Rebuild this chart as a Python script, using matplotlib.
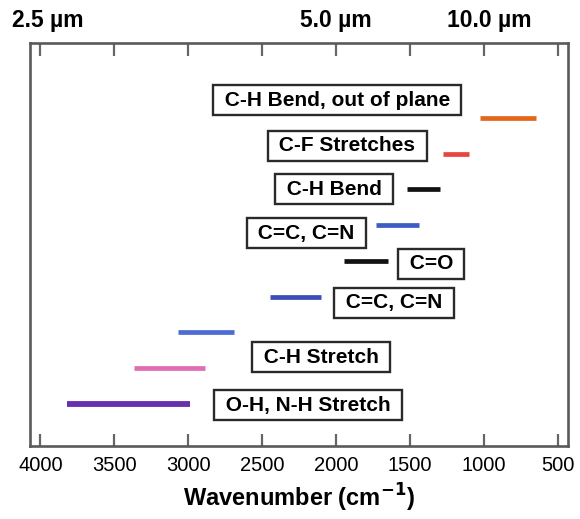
import matplotlib
matplotlib.use("Agg")
import matplotlib.pyplot as plt

# Data: absorption ranges (wavenumber, cm^-1), from top to bottom
band_start = [1030, 1280, 1520, 1730, 1950, 2450, 3070, 3370, 3820]
band_end = [650, 1100, 1300, 1440, 1650, 2100, 2690, 2890, 2990]
band_level = [9, 8, 7, 6, 5, 4, 3, 2, 1]
band_colors = ["#E2661C", "#E8453C", "#111111", "#3D5CC4", "#111111",
               "#3A4DB8", "#4D6BD2", "#E06CB4", "#6630B0"]

labels = ["C-H Bend, out of plane", "C-F Stretches", "C-H Bend", "C=C, C=N",
          "C=O", "C=C, C=N", "C-H Stretch", "O-H, N-H Stretch"]
label_x = [1993, 1926, 2014, 2203, 1358, 1608, 2101, 2189]
label_y = [9.50, 8.22, 7.01, 5.78, 4.92, 3.83, 2.31, 0.97]

xticks = [4000, 3500, 3000, 2500, 2000, 1500, 1000, 500]
top_labels = ["2.5 µm", "5.0 µm", "10.0 µm"]
top_pos = [3950, 2000, 965]

plt.rcParams['font.family'] = ['Liberation Sans', 'DejaVu Sans']

fig = plt.figure(figsize=(5.8, 5.19), dpi=100)
ax = fig.add_axes([0.0509, 0.1397, 0.9284, 0.7784])

for s, e, lv, c in zip(band_start, band_end, band_level, band_colors):
    lw = 4.2 if lv == 1 else 3.4
    ax.plot([s, e], [lv, lv], color=c, lw=lw, solid_capstyle='butt')

for t, x, y in zip(labels, label_x, label_y):
    ax.text(x, y, " " + t + " ", ha='center', va='center', fontsize=15, fontweight='bold',
            bbox=dict(boxstyle='square,pad=0.27', fc='white', ec='#2a2a2a', lw=1.7))

ax.set_xlim(4074, 432)
ax.set_ylim(-0.19, 11.11)
ax.set_xticks(xticks)
ax.set_xticklabels([str(v) for v in xticks], fontsize=14.5)
ax.set_yticks([])
ax.tick_params(axis='x', direction='in', top=True, length=9, width=1.6,
               color='#666666', pad=7)
for sp in ax.spines.values():
    sp.set_color('#5a5a5a')
    sp.set_linewidth(1.9)

ax.set_xlabel("Wavenumber (cm$^{\\mathbf{-1}}$)", fontsize=17, fontweight='bold', labelpad=5)

for t, x in zip(top_labels, top_pos):
    ax.text(x, 1.038, t, transform=ax.get_xaxis_transform(), ha='center', va='baseline',
            fontsize=16.5, fontweight='bold')

fig.savefig("out.png", dpi=100)
